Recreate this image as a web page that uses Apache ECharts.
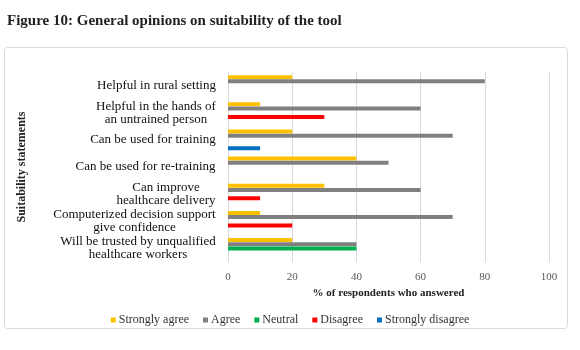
<!DOCTYPE html>
<html>
<head>
<meta charset="utf-8">
<script src="https://cdn.jsdelivr.net/npm/echarts@6/dist/echarts.min.js"></script>
<style>
  html, body { margin: 0; padding: 0; background: #fff; }
  #chart { width: 580px; height: 350px; }
</style>
</head>
<body>
<div id="chart"></div>
<script>
// statements, top to bottom
const statements = [
  'Helpful in rural setting',
  'Helpful in the hands of\nan untrained person',
  'Can be used for training',
  'Can be used for re-training',
  'Can improve\nhealthcare delivery',
  'Computerized decision support\ngive confidence',
  'Will be trusted by unqualified\nhealthcare workers',
];
const stronglyAgree = [20, 10, 20, 40, 30, 10, 20];
const agree = [80, 60, 70, 50, 60, 70, 40];
const neutral = [0, 0, 0, 0, 0, 0, 40];
const disagree = [0, 30, 0, 0, 10, 20, 0];
const stronglyDisagree = [0, 0, 10, 0, 0, 0, 0];
const xTicks = [0, 20, 40, 60, 80, 100];

const seriesList = [
  { name: 'Strongly agree', data: stronglyAgree, color: '#ffc000' },
  { name: 'Agree', data: agree, color: '#808080' },
  { name: 'Neutral', data: neutral, color: '#00b050' },
  { name: 'Disagree', data: disagree, color: '#ff0000' },
  { name: 'Strongly disagree', data: stronglyDisagree, color: '#0070c0' },
];

const serif = '"Liberation Serif", "DejaVu Serif", serif';
const labelSize = 13;

// multi-line labels: lines centred inside a block that is right aligned
const ctx = document.createElement('canvas').getContext('2d');
ctx.font = labelSize + 'px ' + serif;
const rich = {};
statements.forEach((s, i) => {
  const w = Math.max(...s.split('\n').map((l) => ctx.measureText(l).width));
  rich['l' + i] = { width: Math.ceil(w), align: 'center', fontFamily: serif, fontSize: labelSize, lineHeight: 13, color: '#111' };
});

const chart = echarts.init(document.getElementById('chart'));
chart.setOption({
  animation: false,
  title: {
    text: 'Figure 10: General opinions on suitability of the tool',
    left: 2,
    top: 9,
    textStyle: { fontFamily: serif, fontSize: 15, fontWeight: 'bold', color: '#231f20' },
  },
  graphic: [
    {
      type: 'rect',
      shape: { x: 4.5, y: 47.5, width: 563, height: 281, r: 3 },
      style: { fill: 'none', stroke: '#d9d9d9', lineWidth: 1 },
      z: -1,
    },
  ],
  grid: { left: 228, right: 31, top: 72, bottom: 88 },
  legend: {
    bottom: 19,
    left: 'center',
    itemWidth: 5,
    itemHeight: 5,
    itemGap: 14,
    icon: 'rect',
    textStyle: { fontFamily: serif, fontSize: 12, color: '#333', padding: [0, 0, 0, -2] },
    data: seriesList.map((s) => s.name),
  },
  xAxis: {
    type: 'value',
    min: xTicks[0],
    max: xTicks[xTicks.length - 1],
    interval: 20,
    name: '% of respondents who answered',
    nameLocation: 'middle',
    nameGap: 26,
    nameTextStyle: { fontFamily: serif, fontSize: 11, fontWeight: 'bold', color: '#222' },
    axisLine: { show: false },
    axisTick: { show: false },
    axisLabel: { fontFamily: serif, fontSize: 11, color: '#595959', margin: 10 },
    splitLine: { lineStyle: { color: '#d9d9d9' } },
  },
  yAxis: {
    type: 'category',
    inverse: true,
    data: statements,
    name: 'Suitability statements',
    nameLocation: 'middle',
    nameGap: 200,
    nameRotate: 90,
    nameTextStyle: { fontFamily: serif, fontSize: 12, fontWeight: 'bold', color: '#222' },
    axisLine: { show: false },
    axisTick: { show: false },
    axisLabel: {
      margin: 12,
      align: 'right',
      formatter: (v, i) => v.split('\n').map((l) => '{l' + i + '|' + l + '}').join('\n'),
      rich,
    },
  },
  series: seriesList.map((s) => ({
    type: 'bar',
    name: s.name,
    data: s.data,
    barWidth: 4,
    barGap: '5%',
    itemStyle: { color: s.color },
  })),
});
</script>
</body>
</html>
